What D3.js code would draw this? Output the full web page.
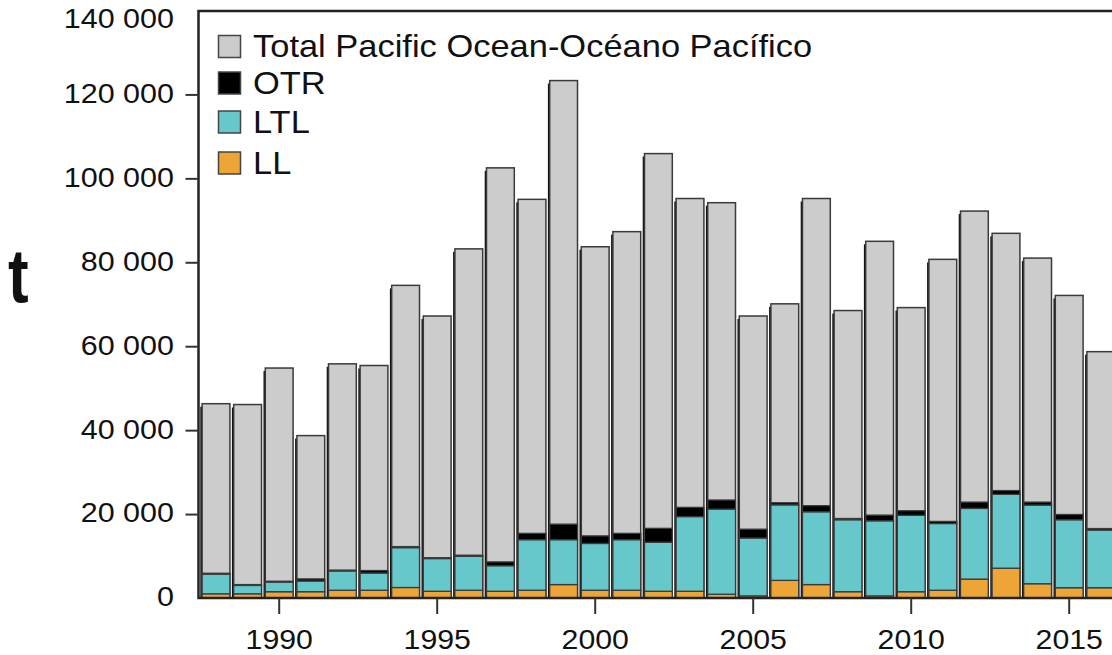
<!DOCTYPE html>
<html>
<head>
<meta charset="utf-8">
<title>catch</title>
<script src="https://cdn.jsdelivr.net/npm/d3@7/dist/d3.min.js"></script>
<style>
body { margin: 0; background: #fff; }
text { font-family: "Liberation Sans", Arial, sans-serif; fill: #111; }
.axis path { display: none; }
.axis line { stroke: #333; stroke-width: 2; }
</style>
</head>
<body>
<svg width="1112" height="655"></svg>
<script>

var years = [1988, 1989, 1990, 1991, 1992, 1993, 1994, 1995, 1996, 1997,
             1998, 1999, 2000, 2001, 2002, 2003, 2004, 2005, 2006, 2007,
             2008, 2009, 2010, 2011, 2012, 2013, 2014, 2015, 2016];

var total = [46300, 46100, 54800, 38700, 55800, 55400, 74500, 67200, 83200, 102500,
             95000, 123300, 83700, 87300, 105900, 95200, 94200, 67200, 70100, 95200,
             68500, 85000, 69200, 80700, 92200, 86900, 81000, 72100, 58700];

var ll  = [1000, 1000, 1500, 1500, 1850, 1850, 2500, 1600, 1850, 1600,
           1850, 3200, 1850, 1850, 1600, 1600, 900, 500, 4200, 3200,
           1500, 500, 1500, 1850, 4500, 7100, 3400, 2450, 2450];

var ltl = [4700, 2000, 2300, 2550, 4600, 4100, 9500, 7800, 8100, 6100,
           12050, 10700, 11150, 12050, 11700, 17800, 20300, 13800, 18000, 17350,
           17150, 17900, 18200, 15900, 16850, 17600, 18750, 16200, 13750];

var otr = [200, 200, 200, 500, 200, 600, 250, 200, 250, 900,
           1500, 3700, 1800, 1500, 3300, 2200, 2150, 2100, 500, 1450,
           300, 1350, 1100, 500, 1500, 900, 700, 1250, 350];

var yTicks = [0, 20000, 40000, 60000, 80000, 100000, 120000, 140000];
var xTicks = [1990, 1995, 2000, 2005, 2010, 2015];

var legendNames = ["Total Pacific Ocean-Océano Pacífico", "OTR", "LTL", "LL"];
var legendColors = ["#cccccc", "#000000", "#67c8cc", "#eca536"];

var svg = d3.select("svg");

var x = d3.scaleBand().domain(years).range([200.2, 1116.6]).paddingInner(0.12).paddingOuter(0.06),
    y = d3.scaleLinear().domain([0, 140000]).range([598, 10.5]);

var rows = years.map(function(yr, i) {
  return {year: yr, total: total[i], LL: ll[i], LTL: ltl[i], OTR: otr[i]};
});
var keys = ["LL", "LTL", "OTR"];
var colors = {LL: "#eca536", LTL: "#67c8cc", OTR: "#000000"};
var series = d3.stack().keys(keys)(rows);

// thin dark shadow on the left of every bar
svg.append("g").selectAll("rect")
  .data(rows)
  .enter().append("rect")
    .attr("x", function(d) { return x(d.year) - 1.8; })
    .attr("y", function(d) { return y(d.total) + 3; })
    .attr("width", x.bandwidth())
    .attr("height", function(d) { return y(0) - y(d.total) - 3; })
    .attr("fill", "#111");

// total bars
svg.append("g").selectAll("rect")
  .data(rows)
  .enter().append("rect")
    .attr("x", function(d) { return x(d.year); })
    .attr("y", function(d) { return y(d.total); })
    .attr("width", x.bandwidth())
    .attr("height", function(d) { return y(0) - y(d.total); })
    .attr("fill", "#cccccc")
    .attr("stroke", "#3a3a3a")
    .attr("stroke-width", 1.5);

// stacked gear bars
svg.append("g").selectAll("g")
  .data(series)
  .enter().append("g")
    .attr("fill", function(s) { return colors[s.key]; })
  .selectAll("rect")
  .data(function(s) { return s; })
  .enter().append("rect")
    .attr("x", function(d) { return x(d.data.year); })
    .attr("y", function(d) { return y(d[1]); })
    .attr("width", x.bandwidth())
    .attr("height", function(d) { return y(d[0]) - y(d[1]); })
    .attr("stroke", "#3a3a3a")
    .attr("stroke-width", 1.3);

// frame
svg.append("rect")
  .attr("x", 198.5).attr("y", 11)
  .attr("width", 1000).attr("height", 587)
  .attr("fill", "none")
  .attr("stroke", "#222")
  .attr("stroke-width", 2.5);

// y axis
var gy = svg.append("g")
  .attr("class", "axis")
  .attr("transform", "translate(198.5,0)")
  .call(d3.axisLeft(y).tickValues(yTicks).tickSize(13).tickFormat(function(d) {
    return d3.format(",")(d).replace(/,/g, " ");
  }));
gy.selectAll(".tick line").filter(function(d) { return d === 0 || d === 140000; }).remove();
gy.selectAll(".tick text")
  .attr("x", -24.5 / 1.13)
  .attr("dy", "0.33em")
  .attr("y", function(d) { return d === 140000 ? 8 : -1; })
  .attr("transform", "scale(1.13,1)")
  .style("font-size", "27px")
  .style("font-family", "'Liberation Sans', Arial, sans-serif")
  .attr("fill", "#111");

// x axis
var gx = svg.append("g")
  .attr("class", "axis")
  .attr("transform", "translate(0,598)")
  .call(d3.axisBottom(x).tickValues(xTicks).tickSize(16));
gx.selectAll(".tick text")
  .attr("y", 51)
  .attr("dy", 0)
  .attr("transform", "scale(1.08,1)")
  .style("font-size", "28px")
  .style("font-family", "'Liberation Sans', Arial, sans-serif")
  .attr("fill", "#111");

// axis title
svg.append("text")
  .attr("transform", "translate(8,302) scale(1,1.23)")
  .style("font-size", "62px")
  .style("font-weight", "bold")
  .text("t");

// legend
var legendY = [46.5, 83, 122, 163];
var lg = svg.append("g");
legendNames.forEach(function(name, i) {
  lg.append("rect")
    .attr("x", 218.5)
    .attr("y", legendY[i] - 11)
    .attr("width", 22)
    .attr("height", 22)
    .attr("fill", legendColors[i])
    .attr("stroke", "#444")
    .attr("stroke-width", 1.5);
  lg.append("text")
    .attr("transform", "translate(253," + (legendY[i] + 10.5) + ") scale(1.13,1)")
    .style("font-size", "30.5px")
    .text(name);
});

</script>
</body>
</html>
